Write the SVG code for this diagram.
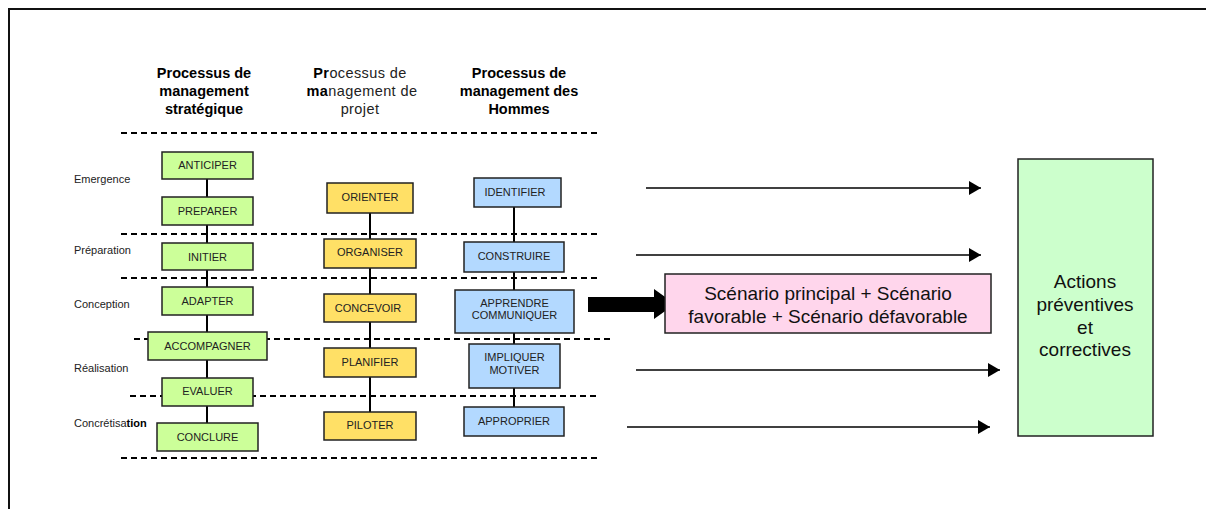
<svg xmlns="http://www.w3.org/2000/svg" width="1206" height="509" viewBox="0 0 1206 509">
<style>
.hdr{font-family:"Liberation Sans",Arial,sans-serif;font-size:14.5px;font-weight:bold;fill:#000;text-anchor:middle}
.hdrn{font-family:"Liberation Sans",Arial,sans-serif;font-size:14.5px;font-weight:normal;fill:#222;text-anchor:middle;letter-spacing:0.4px}
.ph{font-family:"Liberation Sans",Arial,sans-serif;font-size:11px;fill:#222}
.bx{stroke:#222;stroke-width:1.5}
.g{fill:#ccff99}
.y{fill:#ffe066}
.b{fill:#b3d9ff}
.bt{font-family:"Liberation Sans",Arial,sans-serif;font-size:11px;fill:#222;text-anchor:middle}
.big{font-family:"Liberation Sans",Arial,sans-serif;font-size:19px;fill:#111;text-anchor:middle}
.dash{stroke:#000;stroke-width:2;stroke-dasharray:6 4;fill:none}
.conn{stroke:#000;stroke-width:2;fill:none}
.arr{stroke:#000;stroke-width:1.5;fill:none}
</style>
<defs>
<marker id="ah" markerWidth="12" markerHeight="14" refX="12" refY="7" orient="auto" markerUnits="userSpaceOnUse">
<path d="M0,0 L12,7 L0,14 Z" fill="#000"/>
</marker>
</defs>
<rect width="1206" height="509" fill="#fff"/>
<path d="M9,509 V9 H1206" fill="none" stroke="#111" stroke-width="2"/>

<g id="headers">
<text class="hdr" x="204" y="78">Processus de</text>
<text class="hdr" x="204" y="96">management</text>
<text class="hdr" x="204" y="114">stratégique</text>
<text class="hdrn" x="360" y="78"><tspan font-weight="bold" fill="#000">Pr</tspan>ocessus de</text>
<text class="hdrn" x="362" y="96"><tspan font-weight="bold" fill="#000">ma</tspan>nagement de</text>
<text class="hdrn" x="360" y="114">projet</text>
<text class="hdr" x="519" y="78">Processus de</text>
<text class="hdr" x="519" y="96">management des</text>
<text class="hdr" x="519" y="114">Hommes</text>
</g>

<g id="phases">
<text class="ph" x="74" y="183">Emergence</text>
<text class="ph" x="74" y="254">Préparation</text>
<text class="ph" x="74" y="308">Conception</text>
<text class="ph" x="74" y="372">Réalisation</text>
<text class="ph" x="74" y="427">Concrétisa<tspan font-weight="bold" fill="#000">tion</tspan></text>
</g>

<g id="separators">
<line class="dash" x1="121" y1="133" x2="600" y2="133"/>
<line class="dash" x1="121" y1="234" x2="600" y2="234"/>
<line class="dash" x1="121" y1="278" x2="600" y2="278"/>
<line class="dash" x1="134" y1="339" x2="612" y2="339"/>
<line class="dash" x1="130" y1="396" x2="600" y2="396"/>
<line class="dash" x1="121" y1="458" x2="600" y2="458"/>
</g>

<g id="connectors">
<line class="conn" x1="207" y1="178" x2="207" y2="423"/>
<line class="conn" x1="370" y1="213" x2="370" y2="412"/>
<line class="conn" x1="514" y1="207" x2="514" y2="407"/>
<line class="arr" x1="646" y1="188" x2="981" y2="188" marker-end="url(#ah)"/>
<line class="arr" x1="636" y1="255" x2="981" y2="255" marker-end="url(#ah)"/>
<line class="arr" x1="636" y1="370" x2="1000" y2="370" marker-end="url(#ah)"/>
<line class="arr" x1="627" y1="427" x2="990" y2="427" marker-end="url(#ah)"/>
<polygon points="588,297 654,297 654,289 675,304 654,319 654,312 588,312" fill="#000"/>
</g>

<g id="anticiper"><rect class="bx g" x="162" y="152" width="91" height="27"/><text class="bt" x="207.5" y="169">ANTICIPER</text></g>
<g id="preparer"><rect class="bx g" x="162" y="197" width="91" height="28"/><text class="bt" x="207.5" y="215">PREPARER</text></g>
<g id="initier"><rect class="bx g" x="162" y="243" width="91" height="27"/><text class="bt" x="207.5" y="261">INITIER</text></g>
<g id="adapter"><rect class="bx g" x="162" y="287" width="91" height="28"/><text class="bt" x="207.5" y="305">ADAPTER</text></g>
<g id="accompagner"><rect class="bx g" x="148" y="332" width="119" height="28"/><text class="bt" x="207.5" y="350">ACCOMPAGNER</text></g>
<g id="evaluer"><rect class="bx g" x="162" y="378" width="91" height="28"/><text class="bt" x="207.5" y="395">EVALUER</text></g>
<g id="conclure"><rect class="bx g" x="157" y="423" width="101" height="28"/><text class="bt" x="207.5" y="441">CONCLURE</text></g>

<g id="orienter"><rect class="bx y" x="327" y="183" width="86" height="30"/><text class="bt" x="370" y="201">ORIENTER</text></g>
<g id="organiser"><rect class="bx y" x="324" y="239" width="92" height="29"/><text class="bt" x="370" y="256">ORGANISER</text></g>
<g id="concevoir"><rect class="bx y" x="324" y="294" width="92" height="28"/><text class="bt" x="368" y="312">CONCEVOIR</text></g>
<g id="planifier"><rect class="bx y" x="324" y="348" width="92" height="29"/><text class="bt" x="370" y="366">PLANIFIER</text></g>
<g id="piloter"><rect class="bx y" x="324" y="412" width="92" height="28"/><text class="bt" x="370" y="429">PILOTER</text></g>

<g id="identifier"><rect class="bx b" x="474" y="178" width="87" height="29"/><text class="bt" x="515" y="196">IDENTIFIER</text></g>
<g id="construire"><rect class="bx b" x="464" y="242" width="100" height="30"/><text class="bt" x="514" y="260">CONSTRUIRE</text></g>
<g id="apprendre"><rect class="bx b" x="455" y="290" width="119" height="43"/><text class="bt" x="514.5" y="307">APPRENDRE</text><text class="bt" x="514.5" y="319">COMMUNIQUER</text></g>
<g id="impliquer"><rect class="bx b" x="469" y="344" width="91" height="44"/><text class="bt" x="514.5" y="361">IMPLIQUER</text><text class="bt" x="514.5" y="374">MOTIVER</text></g>
<g id="approprier"><rect class="bx b" x="464" y="407" width="100" height="29"/><text class="bt" x="514" y="425">APPROPRIER</text></g>

<g id="scenarios"><rect x="665" y="274" width="326" height="59" fill="#ffd6ec" stroke="#222" stroke-width="1.5"/><text class="big" x="828" y="300">Scénario principal + Scénario</text><text class="big" x="828" y="323">favorable + Scénario défavorable</text></g>

<g id="actions"><rect x="1018" y="159" width="135" height="277" fill="#ccffcc" stroke="#222" stroke-width="1.5"/><text class="big" x="1085" y="288">Actions</text><text class="big" x="1085" y="311">préventives</text><text class="big" x="1085" y="334">et</text><text class="big" x="1085" y="356">correctives</text></g>
</svg>
